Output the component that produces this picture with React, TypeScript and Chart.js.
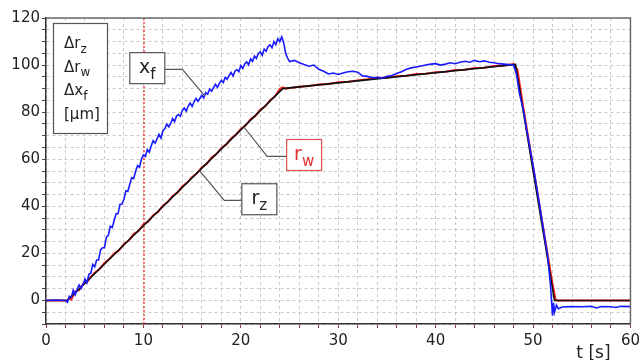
import { useEffect, useRef } from 'react';
import { Chart, registerables } from 'chart.js';
Chart.register(...registerables);

const FONT = '"DejaVu Sans", Verdana, sans-serif';

// x_f (blue) measured trace
const tBlue = [0, 1, 2.0, 2.2, 2.4, 2.6, 2.8, 3.0, 3.2, 3.4, 3.6, 3.8, 4.0, 4.2, 4.4, 4.6, 4.8, 5.0, 5.2, 5.4, 5.6, 5.8, 6.0, 6.2, 6.4, 6.6, 6.8, 7.0, 7.2, 7.4, 7.6, 7.8, 8.0, 8.2, 8.4, 8.6, 8.8, 9.0, 9.2, 9.4, 9.6, 9.8, 10.0, 10.2, 10.4, 10.6, 10.8, 11.0, 11.2, 11.4, 11.6, 11.8, 12.0, 12.2, 12.4, 12.6, 12.8, 13.0, 13.2, 13.4, 13.6, 13.8, 14.0, 14.2, 14.4, 14.6, 14.8, 15.0, 15.2, 15.4, 15.6, 15.8, 16.0, 16.2, 16.4, 16.6, 16.8, 17.0, 17.2, 17.4, 17.6, 17.8, 18.0, 18.2, 18.4, 18.6, 18.8, 19.0, 19.2, 19.4, 19.6, 19.8, 20.0, 20.2, 20.4, 20.6, 20.8, 21.0, 21.2, 21.4, 21.6, 21.8, 22.0, 22.2, 22.4, 22.6, 22.8, 23.0, 23.2, 23.4, 23.6, 23.8, 24.0, 24.2, 24.4, 24.6, 24.8, 25.0, 25.5, 26.0, 26.5, 27.0, 27.5, 28.0, 28.5, 29.0, 29.5, 30.0, 30.5, 31.0, 31.5, 32.0, 32.5, 33.0, 33.5, 34.0, 34.5, 35.0, 35.5, 36.0, 36.5, 37.0, 37.5, 38.0, 38.5, 39.0, 39.5, 40.0, 40.5, 41.0, 41.5, 42.0, 42.5, 43.0, 43.5, 44.0, 44.5, 45.0, 45.5, 46.0, 46.5, 47.0, 47.5, 48.0, 48.3, 48.6, 49.0, 49.5, 50.0, 50.5, 51.0, 51.5, 51.8, 52.0, 52.1, 52.2, 52.4, 52.6, 53.0, 54.0, 55.0, 56.0, 56.5, 57.0, 58.0, 58.5, 59.0, 60.0];
const vBlue = [
  0, 0.2, 0, -0.8,
  1.8, 1.4, 4.4, 2.4, 4.8, 6.6, 5.1, 6.8, 9.1, 7.5,
  11.1, 11.6, 15.3, 14.3, 17.2, 17.2, 21.5, 22.4, 22.4, 26.9,
  27.7, 31.5, 31.0, 34.1, 36.8, 36.9, 40.9, 41.0, 43.0, 46.6,
  46.3, 49.4, 52.2, 51.8, 54.9, 57.3, 56.6, 60.1, 61.8, 61.2,
  64.1, 63.0, 65.6, 67.9, 66.8, 68.7, 70.6, 69.0, 72.1, 72.9,
  74.9, 73.8, 75.2, 77.3, 76.0, 78.4, 79.0, 78.2, 80.8, 81.7,
  80.4, 82.6, 83.9, 82.4, 84.4, 85.8, 84.6, 85.9, 87.2, 86.1,
  88.3, 87.6, 89.8, 88.9, 90.4, 91.8, 90.5, 92.2, 93.5, 92.6,
  94.8, 93.9, 95.6, 96.8, 95.4, 97.4, 98.1, 97.2, 99.8, 98.6,
  100.5, 101.4, 100.1, 102.6, 101.6, 103.8, 102.8, 104.9, 105.6, 104.2,
  106.8, 105.9, 107.9, 108.6, 107.4, 110.0, 108.7, 111.2, 110.0, 112.0,
  109.5,
  105.0, 103.0, 101.5, 102.0, 101.0, 100.2, 99.5, 100.0, 98.2, 97.4, 96.2, 96.6, 96.0, 96.6, 97.2, 97.4, 97.0, 95.4, 95.2, 94.6, 94.8, 94.4, 95.2, 95.6, 96.4, 97.2, 98.2, 98.8, 99.2, 99.6, 100.0, 100.4, 100.6, 100.0, 100.4, 101.0, 100.6, 101.2, 101.6, 101.2, 102.0, 101.4, 101.8, 101.2, 101.0, 100.6, 100.4, 100.2, 100.0,
  96, 88, 81, 69, 57.5, 45, 32, 19, 6, -6.5, -1, -5, -2, -3.5, -2.8, -2.6, -2.7, -2.5, -3.2, -2.6, -2.7, -3.0, -2.5, -2.6,
];

// r_w (red) measured trace
const tRed = [0, 2.2, 2.4, 2.6, 3.0, 3.4, 3.8, 4.2, 4.6, 5.0, 5.5, 6, 6.5, 7, 7.5, 8, 8.5, 9, 9.5, 10, 10.5, 11, 11.5, 12, 12.5, 13, 13.5, 14, 14.5, 15, 15.5, 16, 16.5, 17, 17.5, 18, 18.5, 19, 19.5, 20, 20.5, 21, 21.5, 22, 22.5, 23, 23.5, 24, 24.3, 24.6, 25, 26, 27, 28, 29, 30, 31, 32, 33, 34, 35, 36, 37, 38, 39, 40, 41, 42, 43, 44, 45, 46, 47, 48, 48.4, 49, 49.5, 50, 50.5, 51, 51.5, 52, 52.3, 52.5, 60];
const vRed = [0, 0, 1.2, 0.4, 3.8, 4.4, 7.0, 7.8, 10.0, 11.8, 13.4, 15.9, 17.6, 19.9, 21.3, 24.0, 25.5, 28.2, 29.5, 32.3, 33.6, 36.2, 37.6, 40.3, 41.8, 44.4, 45.8, 48.5, 50.0, 52.5, 54.0, 56.6, 58.0, 60.7, 62.2, 64.8, 66.2, 68.8, 70.4, 72.9, 74.4, 77.0, 78.4, 81.1, 82.4, 85.1, 86.6, 89.8, 90.5, 90.0, 90.3, 90.8, 91.1, 91.8, 92.0, 92.7, 92.9, 93.5, 94.0, 94.6, 94.6, 95.3, 95.5, 96.2, 96.3, 97.0, 97.2, 97.9, 98.0, 98.8, 98.9, 99.6, 99.8, 100.4, 98, 82, 69.5, 57, 44.5, 32, 19.5, 7, 0.5, 0, 0];

// r_z (black) reference trace
const tBlack = [0, 2.2, 24.3, 48.2, 52.2, 60];
const vBlack = [0, 0, 90, 100.3, 0, 0];

const yTickLabels = [0, 20, 40, 60, 80, 100, 120];
const xTickLabels = [0, 10, 20, 30, 40, 50, 60];
const markerT = 10;

const legendLines = [
  { main: 'Δr', sub: 'z' },
  { main: 'Δr', sub: 'w' },
  { main: 'Δx', sub: 'f' },
  { main: '[µm]', sub: '' },
];

const callouts = [
  { main: 'x', sub: 'f', color: '#222', border: '#555', box: { t: 10.4, v: 98.7 }, elbow: { t: 14.0, v: 98.2 }, end: { t: 16.3, v: 86.9 }, side: 'right' },
  { main: 'r', sub: 'w', color: '#e03030', border: '#e05050', box: { t: 26.5, v: 61.8 }, elbow: { t: 22.7, v: 61.2 }, end: { t: 20.3, v: 73.8 }, side: 'left' },
  { main: 'r', sub: 'z', color: '#222', border: '#555', box: { t: 21.9, v: 43.0 }, elbow: { t: 18.3, v: 42.5 }, end: { t: 15.76, v: 55.2 }, side: 'left' },
];

const toXY = (ts: number[], vs: number[]) => ts.map((t, i) => ({ x: t, y: vs[i] }));

function drawSubText(ctx: CanvasRenderingContext2D, x: number, y: number, main: string, sub: string, size: number, color: string, align: 'left' | 'center') {
  ctx.fillStyle = color;
  ctx.textBaseline = 'alphabetic';
  ctx.textAlign = 'left';
  ctx.font = `${size}px ${FONT}`;
  const mw = ctx.measureText(main).width;
  ctx.font = `${Math.round(size * 0.8)}px ${FONT}`;
  const sw = sub ? ctx.measureText(sub).width : 0;
  const total = mw + sw;
  const x0 = align === 'center' ? x - total / 2 : x;
  ctx.font = `${size}px ${FONT}`;
  ctx.fillText(main, x0, y);
  if (sub) {
    ctx.font = `${Math.round(size * 0.8)}px ${FONT}`;
    ctx.fillText(sub, x0 + mw, y + size * 0.3);
  }
}

const annotPlugin = {
  id: 'annot',
  beforeDatasetsDraw(chart: any) {
    const { ctx, chartArea, scales } = chart;
    const x = Math.round(scales.x.getPixelForValue(markerT)) + 1;
    ctx.save();
    ctx.strokeStyle = '#ff2a2a';
    ctx.lineWidth = 1.3;
    ctx.setLineDash([2, 2]);
    ctx.beginPath();
    ctx.moveTo(x, chartArea.top);
    ctx.lineTo(x, chartArea.bottom);
    ctx.stroke();
    ctx.restore();
  },
  afterDraw(chart: any) {
    const { ctx, chartArea, scales } = chart;
    const xs = scales.x;
    const ys = scales.y;
    ctx.save();
    // frame
    ctx.strokeStyle = '#6a6a6a';
    ctx.lineWidth = 1.5;
    ctx.beginPath();
    ctx.moveTo(chartArea.left, chartArea.top);
    ctx.lineTo(chartArea.right, chartArea.top);
    ctx.lineTo(chartArea.right, chartArea.bottom);
    ctx.stroke();

    // legend box
    const lx = chartArea.left + 7;
    const ly = chartArea.top + 5;
    const lw = 54;
    const lh = 110;
    ctx.fillStyle = '#fff';
    ctx.fillRect(lx, ly, lw, lh);
    ctx.strokeStyle = '#555';
    ctx.lineWidth = 1.2;
    ctx.strokeRect(lx + 0.5, ly + 0.5, lw, lh);
    legendLines.forEach((ln, i) => {
      drawSubText(ctx, lx + 11, ly + 25 + i * 23.5, ln.main, ln.sub, 15, '#222', 'left');
    });

    // callouts
    const bw = 35;
    const bh = 31;
    callouts.forEach((c) => {
      const bx = xs.getPixelForValue(c.box.t);
      const by = ys.getPixelForValue(c.box.v);
      const ex = xs.getPixelForValue(c.elbow.t);
      const ey = ys.getPixelForValue(c.elbow.v);
      const nx = xs.getPixelForValue(c.end.t);
      const ny = ys.getPixelForValue(c.end.v);
      const edgeX = c.side === 'right' ? bx + bw / 2 : bx - bw / 2;
      ctx.strokeStyle = '#555';
      ctx.lineWidth = 1.2;
      ctx.beginPath();
      ctx.moveTo(edgeX, ey);
      ctx.lineTo(ex, ey);
      ctx.lineTo(nx, ny);
      ctx.stroke();
      ctx.fillStyle = '#fff';
      ctx.fillRect(bx - bw / 2, by - bh / 2, bw, bh);
      ctx.strokeStyle = c.border;
      ctx.lineWidth = 1.2;
      ctx.strokeRect(bx - bw / 2, by - bh / 2, bw, bh);
      drawSubText(ctx, bx, by + 5, c.main, c.sub, 19, c.color, 'center');
    });

    // axis title
    drawSubText(ctx, xs.getPixelForValue(56.2), 358, 't [s]', '', 17, '#222', 'center');
    ctx.restore();
  },
};

export default function App() {
  const ref = useRef<HTMLCanvasElement>(null);
  useEffect(() => {
    if (!ref.current) return;
    const chart = new Chart(ref.current, {
      type: 'line',
      data: {
        datasets: [
          { label: 'x_f', data: toXY(tBlue, vBlue), borderColor: '#1a1aff', borderWidth: 1.6, pointRadius: 0, tension: 0, order: 1 },
          { label: 'r_z', data: toXY(tBlack, vBlack), borderColor: '#111', borderWidth: 1.6, pointRadius: 0, tension: 0, order: 2 },
          { label: 'r_w', data: toXY(tRed, vRed), borderColor: '#ff2020', borderWidth: 2, pointRadius: 0, tension: 0, order: 3 },
        ],
      },
      options: {
        animation: false,
        responsive: true,
        maintainAspectRatio: false,
        layout: { padding: { top: 18, right: 11, left: 0, bottom: 0 } },
        plugins: { legend: { display: false }, tooltip: { enabled: false } },
        scales: {
          x: {
            type: 'linear',
            min: 0,
            max: 60,
            afterFit: (s: any) => { s.height = 36; },
            ticks: {
              stepSize: 2,
              autoSkip: false,
              maxRotation: 0,
              padding: 4,
              color: '#222',
              font: { family: FONT, size: 15 },
              callback: (v: any) => (xTickLabels.includes(Number(v)) ? String(v) : ''),
            },
            grid: { color: '#c8c8c8', tickColor: '#8a3a3a', tickLength: 4, lineWidth: 1 },
            border: { color: '#333', width: 1.5, dash: [3, 3] },
          },
          y: {
            type: 'linear',
            min: -10,
            max: 120,
            afterFit: (s: any) => { s.width = 46; },
            ticks: {
              stepSize: 5,
              autoSkip: false,
              padding: 2,
              color: '#222',
              font: { family: FONT, size: 15 },
              callback: (v: any) => (yTickLabels.includes(Number(v)) ? String(v) : ''),
            },
            grid: { color: '#c8c8c8', tickColor: '#444', tickLength: 4, lineWidth: 1 },
            border: { color: '#333', width: 1.5, dash: [3, 3] },
          },
        },
      },
      plugins: [annotPlugin],
    });
    return () => chart.destroy();
  }, []);
  return (
    <div style={{ position: 'absolute', left: 0, top: 0, width: 644, height: 360, background: '#fff' }}>
      <canvas ref={ref} />
    </div>
  );
}
